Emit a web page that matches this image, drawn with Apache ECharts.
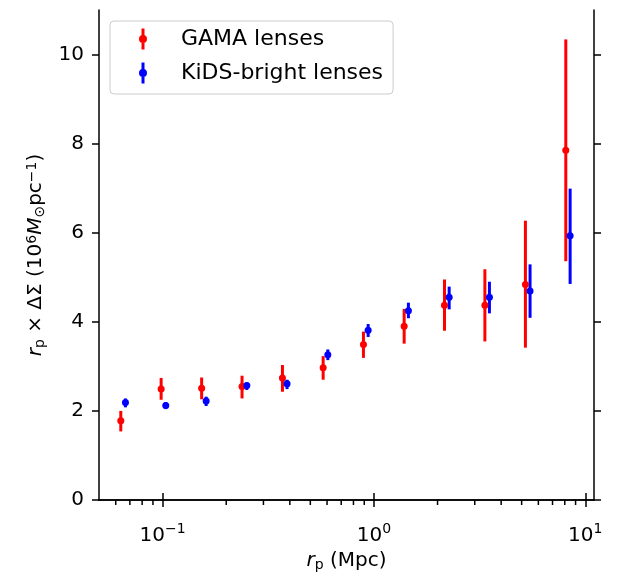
<!DOCTYPE html>
<html>
<head>
<meta charset="utf-8">
<script src="https://cdn.jsdelivr.net/npm/echarts@6/dist/echarts.min.js"></script>
<style>
  html, body { margin: 0; padding: 0; background: #fff; }
  #chart { width: 624px; height: 577px; }
</style>
</head>
<body>
<div id="chart"></div>
<script>
// GAMA lenses
var gamaR  = [0.0634, 0.0984, 0.153, 0.2376, 0.369, 0.575, 0.892, 1.39, 2.157, 3.35, 5.21, 8.09];
var gamaY  = [1.78, 2.49, 2.51, 2.55, 2.74, 2.97, 3.49, 3.90, 4.37, 4.37, 4.84, 7.85];
var gamaLo = [1.54, 2.25, 2.26, 2.28, 2.43, 2.70, 3.19, 3.51, 3.80, 3.56, 3.42, 5.36];
var gamaHi = [2.00, 2.74, 2.75, 2.79, 3.03, 3.23, 3.78, 4.29, 4.95, 5.18, 6.27, 10.34];
// KiDS-bright lenses
var kidsR  = [0.0667, 0.1035, 0.1607, 0.2503, 0.388, 0.605, 0.939, 1.456, 2.27, 3.52, 5.48, 8.48];
var kidsY  = [2.19, 2.12, 2.22, 2.57, 2.61, 3.26, 3.81, 4.25, 4.55, 4.55, 4.69, 5.93];
var kidsLo = [2.08, 2.04, 2.11, 2.47, 2.49, 3.14, 3.66, 4.08, 4.28, 4.19, 4.09, 4.85];
var kidsHi = [2.28, 2.20, 2.32, 2.64, 2.70, 3.38, 3.95, 4.43, 4.79, 4.90, 5.29, 6.99];

// ticks
var xMajor = [0.1, 1, 10];
var xMinor = [0.06, 0.07, 0.08, 0.09, 0.2, 0.3, 0.4, 0.5, 0.6, 0.7, 0.8, 0.9,
              2, 3, 4, 5, 6, 7, 8, 9];
var yTicks = [0, 2, 4, 6, 8, 10];

var FONT = "DejaVu Sans";
var chart = echarts.init(document.getElementById("chart"));

function pts(xs, ys) {
  return xs.map(function (x, i) { return [x, ys[i]]; });
}
function bars(xs, lo, hi) {
  return xs.map(function (x, i) { return [x, lo[i], hi[i]]; });
}
function errRender(color) {
  return function (params, api) {
    var a = api.coord([api.value(0), api.value(1)]);
    var b = api.coord([api.value(0), api.value(2)]);
    return {
      type: "line",
      shape: { x1: a[0], y1: a[1], x2: b[0], y2: b[1] },
      style: { stroke: color, lineWidth: 3 }
    };
  };
}

var axisLine = { show: true, lineStyle: { color: "#000", width: 1.5 } };
var majorTick = { show: true, inside: false, length: 7, lineStyle: { color: "#000", width: 1.5 } };

var supRich = {
  b: { fontFamily: FONT, fontSize: 20, color: "#000", lineHeight: 24, verticalAlign: "bottom" },
  s: { fontFamily: FONT, fontSize: 14, color: "#000", lineHeight: 14, verticalAlign: "top" }
};

var labelRich = {
  n: { fontFamily: FONT, fontSize: 20, color: "#000", lineHeight: 22 },
  i: { fontFamily: FONT, fontSize: 20, fontStyle: "italic", color: "#000", lineHeight: 22 },
  sup: { fontFamily: FONT, fontSize: 14, color: "#000", lineHeight: 14, verticalAlign: "top" },
  sub: { fontFamily: FONT, fontSize: 14, color: "#000", lineHeight: 14, verticalAlign: "bottom" }
};

var legendIcon = "path://M2.5,0H5.5V21H2.5Z M4,6.5A4,4 0 1 1 3.99,6.5Z";

chart.setOption({
  animation: false,
  backgroundColor: "#fff",
  grid: { left: 99, right: 30, top: 10, bottom: 77, containLabel: false, outerBoundsMode: "none" },
  legend: {
    data: [
      { name: "GAMA lenses", icon: legendIcon },
      { name: "KiDS-bright lenses", icon: legendIcon }
    ],
    orient: "vertical",
    left: 110,
    top: 21,
    itemWidth: 22,
    itemHeight: 21,
    itemGap: 12,
    padding: [7, 10, 10, 29],
    backgroundColor: "rgba(255,255,255,0.8)",
    borderColor: "#cccccc",
    borderWidth: 1,
    borderRadius: 4,
    textStyle: { fontFamily: FONT, fontSize: 22, color: "#000", padding: [0, 0, 0, 22] }
  },
  xAxis: [
    {
      type: "log",
      min: 0.05,
      max: 11,
      position: "bottom",
      axisLine: axisLine,
      axisTick: Object.assign({ customValues: xMajor }, majorTick),
      axisLabel: {
        customValues: xMajor,
        margin: 22,
        formatter: function (v) {
          var e = Math.round(Math.log10(v));
          return "{b|10}{s|" + String(e).replace("-", "\u2212") + "}";
        },
        rich: supRich
      },
      splitLine: { show: false },
      minorTick: { show: false },
      name: "{i|r}{sub|p}{n| (Mpc)}",
      nameLocation: "middle",
      nameGap: 46,
      nameTextStyle: { rich: labelRich }
    },
    {
      type: "log",
      min: 0.05,
      max: 11,
      position: "top",
      axisLine: axisLine,
      axisTick: Object.assign({ customValues: xMajor }, majorTick),
      axisLabel: { show: false },
      splitLine: { show: false }
    }
  ],
  yAxis: [
    {
      type: "value",
      min: 0,
      max: 11,
      position: "left",
      axisLine: axisLine,
      axisTick: Object.assign({ customValues: yTicks }, majorTick),
      axisLabel: { customValues: yTicks, margin: 15, fontFamily: FONT, fontSize: 20, color: "#000" },
      splitLine: { show: false },
      name: "{i|r}{sub|p}{n| \u00d7 \u0394\u03a3 (10}{sup|6}{i|M}{sub|\u2299}{n|pc}{sup|\u22121}{n|)}",
      nameLocation: "middle",
      nameRotate: 90,
      nameGap: 52,
      nameTextStyle: { rich: labelRich }
    },
    {
      type: "value",
      min: 0,
      max: 11,
      position: "right",
      axisLine: axisLine,
      axisTick: Object.assign({ customValues: yTicks }, majorTick),
      axisLabel: { show: false },
      splitLine: { show: false }
    }
  ],
  series: [
    {
      // minor ticks of the log axis, hanging below the bottom spine
      type: "scatter",
      name: "minor ticks",
      xAxisIndex: 0,
      yAxisIndex: 0,
      data: xMinor.map(function (v) { return [v, 0]; }),
      symbol: "rect",
      symbolSize: [1.5, 5],
      symbolOffset: [0, 2.5],
      itemStyle: { color: "#000", opacity: 1 },
      clip: false,
      silent: true,
      z: 5
    },
    {
      type: "custom",
      name: "GAMA err",
      xAxisIndex: 0,
      yAxisIndex: 0,
      data: bars(gamaR, gamaLo, gamaHi),
      encode: { x: 0, y: [1, 2] },
      renderItem: errRender("#ff0000"),
      z: 2
    },
    {
      type: "custom",
      name: "KiDS err",
      xAxisIndex: 0,
      yAxisIndex: 0,
      data: bars(kidsR, kidsLo, kidsHi),
      encode: { x: 0, y: [1, 2] },
      renderItem: errRender("#0000ff"),
      z: 2
    },
    {
      type: "scatter",
      name: "GAMA lenses",
      xAxisIndex: 0,
      yAxisIndex: 0,
      data: pts(gamaR, gamaY),
      symbol: "circle",
      symbolSize: 7,
      itemStyle: { color: "#ff0000", opacity: 1 },
      z: 3
    },
    {
      type: "scatter",
      name: "KiDS-bright lenses",
      xAxisIndex: 0,
      yAxisIndex: 0,
      data: pts(kidsR, kidsY),
      symbol: "circle",
      symbolSize: 7,
      itemStyle: { color: "#0000ff", opacity: 1 },
      z: 3
    }
  ]
});
</script>
</body>
</html>
